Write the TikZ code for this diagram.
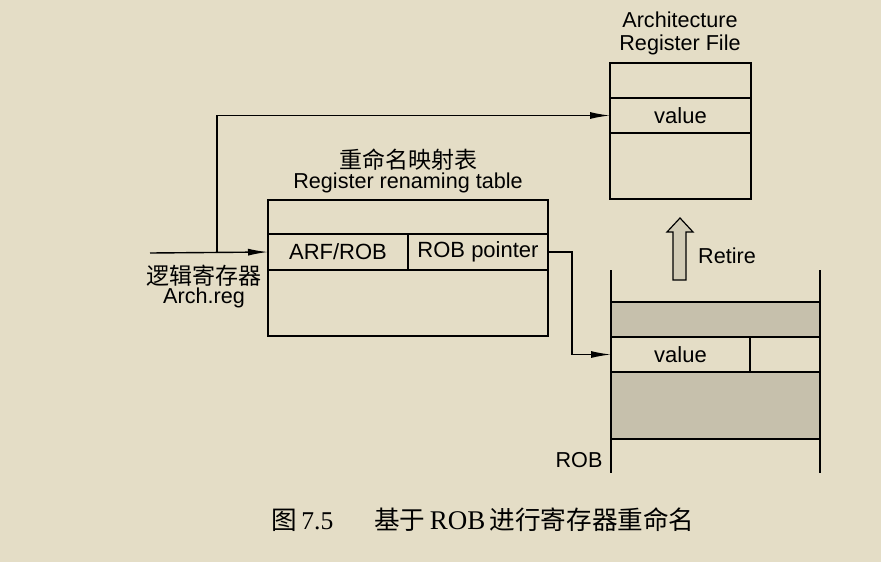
\documentclass[tikz,border=0pt]{standalone}
\usepackage{fontspec}
\setmainfont{Liberation Sans}
\newfontfamily\cjk{Noto Sans CJK SC}
\newfontfamily\capserif{Liberation Serif}
\usetikzlibrary{positioning,arrows.meta}

\definecolor{paper}{RGB}{228,221,198}
\definecolor{shade}{RGB}{198,192,172}
\tikzset{
  cell/.style={draw, line width=0.7pt, inner sep=0pt, outer sep=0pt, minimum height=17.5pt, font=\fontsize{11}{13}\selectfont},
  link/.style={line width=0.7pt, -{Latex[length=10pt,width=3.5pt]}},
  lbl/.style={inner sep=0pt, font=\fontsize{10.8}{13}\selectfont},
  cnlbl/.style={inner sep=0pt, font=\fontsize{11.5}{13}\selectfont\cjk}
}

\begin{document}
\begin{tikzpicture}[x=0.5pt,y=-0.5pt]
\fill[paper] (0,0) rectangle (881,562);
\useasboundingbox (0,0) rectangle (881,562);

% architecture register file
\node[cell, minimum width=70.5pt] (arf_top) at (680.5,80.5) {};
\node[cell, minimum width=70.5pt, below=0pt of arf_top] (arf_val) {value};
\node[cell, minimum width=70.5pt, minimum height=33pt, below=0pt of arf_val] (arf_bot) {};
\node[lbl] (arf_name1) at (680,20) {Architecture};
\node[lbl] (arf_name2) at (680,45) {Register File};

% renaming table
\node[cell, minimum width=140pt, minimum height=17pt] (rt_top) at (408,217) {};
\node[cell, minimum width=70pt, minimum height=18pt, anchor=north west] (rt_arf) at (rt_top.south west) {ARF/ROB};
\node[cell, minimum width=70pt, minimum height=18pt, right=0pt of rt_arf] (rt_ptr) {ROB pointer};
\node[cell, minimum width=140pt, minimum height=33pt, anchor=north west] (rt_bot) at (rt_arf.south west) {};
\node[cnlbl] (rt_cn) at (408,160) {重命名映射表};
\node[lbl] (rt_en) at (408,183) {Register renaming table};

% arch reg input
\node[cnlbl] (arch_cn) at (204,276) {逻辑寄存器};
\node[lbl] (arch_en) at (204,298) {Arch.reg};
\coordinate (arch_in) at (150,253);
\coordinate (fork) at (217,253);
\draw[link] (arch_in) -- (rt_arf.west);
\draw[link] (fork) |- (arf_val.west);

% reorder buffer
\node[inner sep=0pt, outer sep=0pt, minimum width=104.5pt, minimum height=101.5pt] (rob) at (715.5,371.5) {};
\node[cell, fill=shade, minimum width=104.5pt] (rob_old) at (715.5,319.5) {};
\node[cell, minimum width=69.5pt, anchor=north west] (rob_val) at (rob_old.south west) {value};
\node[cell, minimum width=35pt, right=0pt of rob_val] (rob_free) {};
\node[cell, fill=shade, minimum width=104.5pt, minimum height=33.5pt, anchor=north west] (rob_new) at (rob_val.south west) {};
\draw[line width=0.7pt] (rob.north west) -- (rob.south west) (rob.north east) -- (rob.south east);
\node[lbl] (rob_name) at (579,460) {ROB};
\draw[link] (rt_ptr.east) -- ++(24,0) |- (rob_val.west);

% retire
\draw[line width=0.6pt, fill=shade!60!paper] (673,280) -- (673,232) -- (667,232) -- (680,218)
  -- (693,232) -- (686,232) -- (686,280) -- cycle;
\node[lbl] (retire) at (727,256) {Retire};

% caption
\node[inner sep=0pt, font=\fontsize{12.8}{15}\selectfont] (caption) at (483,520)
  {{\cjk 图}\,{\capserif 7.5}\hspace{1.6em}{\cjk 基于}\,{\capserif\fontsize{13.5}{15}\selectfont ROB}\,{\cjk 进行寄存器重命名}};
\end{tikzpicture}
\end{document}
